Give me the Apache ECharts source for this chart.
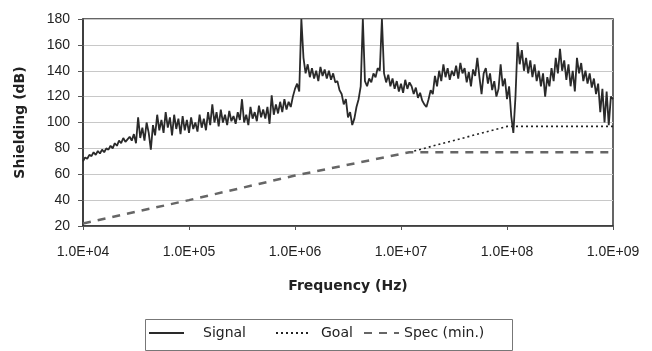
<!DOCTYPE html>
<html>
<head>
<meta charset="utf-8">
<script src="https://cdn.jsdelivr.net/npm/echarts@6/dist/echarts.min.js"></script>
<style>html,body{margin:0;padding:0;background:#fff;}#c{width:652px;height:351px;}</style>
</head>
<body>
<div id="c"></div>
<script>
// Signal readings, 50 per decade (log-spaced), one array per decade
const sigDec0 = [70,73,72,75,74,77,75,78,76,79, 77,80,79,82,80,84,82,86,84,88, 85,87,89,86,91,84,104,88,96,86, 100,92,79,98,90,106,94,102,92,108, 96,104,90,106,95,103,91,105,94,102];
const sigDec1 = [92,104,95,100,93,106,96,103,94,108, 98,114,100,108,97,110,100,106,98,109, 101,105,99,108,102,118,100,106,98,112, 103,108,101,113,104,110,103,112,99,121, 106,114,107,116,108,118,110,116,112,120];
const sigDec2 = [126,130,124,180,150,138,145,135,142,134, 140,132,143,136,141,134,140,133,138,131, 132,125,122,114,118,104,108,98,103,112, 118,128,180,132,128,134,131,138,135,142, 140,180,138,131,137,128,134,126,132,124];
const sigDec3 = [130,123,133,126,131,128,122,127,119,123, 117,114,112,118,125,122,136,128,140,132, 145,135,142,133,140,136,144,134,146,138, 142,131,139,128,141,136,150,135,122,138, 142,130,138,125,132,120,126,145,128,134];
const sigDec4 = [118,128,105,92,120,162,145,156,140,150, 138,148,135,145,132,140,128,138,120,135, 128,142,132,150,138,157,140,148,133,145, 128,140,124,150,138,146,132,140,130,138, 127,134,122,130,108,126,100,124,98,120];
const sigEnd = 118;
const startExp = 4;
const perDecade = 50;

const goalFreq = [1.2e7, 1e8, 1e9];
const goalVals = [77, 97, 97];
const specFreq = [1e4, 1e5, 1e6, 1.2e7, 1e9];
const specVals = [22, 40, 59, 77, 77];

const yTicks = [20, 40, 60, 80, 100, 120, 140, 160, 180];
const seriesNames = ['Signal', 'Goal', 'Spec (min.)'];

const sigAll = [].concat(sigDec0, sigDec1, sigDec2, sigDec3, sigDec4, [sigEnd]);
const sigData = sigAll.map((v, i) => [Math.pow(10, startExp + i / perDecade), v]);
const goalData = goalFreq.map((f, i) => [f, goalVals[i]]);
const specData = specFreq.map((f, i) => [f, specVals[i]]);

const font = 'Liberation Sans, Arial, sans-serif';
const boldFont = 'DejaVu Sans, sans-serif';
const legendText = {fontFamily: 'DejaVu Sans, sans-serif', fontSize: 14, color: '#222'};
function mkLegend(name, left, padLeft) {
  return {
    data: [name], left: left, top: 326, padding: 0,
    itemWidth: 35, itemHeight: 14,
    itemStyle: {opacity: 0},
    textStyle: Object.assign({}, legendText, {padding: [0, 0, 0, padLeft]})
  };
}
const chart = echarts.init(document.getElementById('c'), null, {renderer: 'canvas'});
chart.setOption({
  animation: false,
  backgroundColor: '#fff',
  grid: {left: 83, right: 39, top: 19, bottom: 125, show: true, borderColor: '#333', borderWidth: 1.5, backgroundColor: 'transparent'},
  xAxis: {
    type: 'log', logBase: 10, min: 1e4, max: 1e9, interval: 1,
    name: 'Frequency (Hz)', nameLocation: 'middle', nameGap: 53,
    nameTextStyle: {fontFamily: boldFont, fontSize: 14, fontWeight: 'bold', color: '#222'},
    axisLine: {show: true, lineStyle: {color: '#333', width: 1.5}},
    axisTick: {show: true, length: 4, lineStyle: {color: '#555'}},
    axisLabel: {fontFamily: font, fontSize: 14, color: '#222', margin: 19,
      formatter: v => '1.0E+' + String(Math.round(Math.log10(v))).padStart(2, '0')},
    splitLine: {show: false},
    minorTick: {show: false}
  },
  yAxis: {
    type: 'value', min: yTicks[0], max: yTicks[yTicks.length - 1], interval: 20,
    name: 'Shielding (dB)', nameLocation: 'middle', nameGap: 56,
    nameTextStyle: {fontFamily: boldFont, fontSize: 14, fontWeight: 'bold', color: '#222'},
    axisLine: {show: true, lineStyle: {color: '#333', width: 1.5}},
    axisTick: {show: true, length: 5, lineStyle: {color: '#555'}},
    axisLabel: {fontFamily: font, fontSize: 14, color: '#222', margin: 13},
    splitLine: {show: true, lineStyle: {color: '#c8c8c8', width: 1}}
  },
  legend: [
    mkLegend(seriesNames[0], 148, 14),
    mkLegend(seriesNames[1], 275, 5),
    mkLegend(seriesNames[2], 363, 0)
  ],
  graphic: [{type: 'rect', left: 143, top: 317, shape: {width: 367, height: 31},
    style: {fill: 'none', stroke: '#777', lineWidth: 1}}],
  series: [
    {name: 'Goal', type: 'line', data: goalData, symbol: 'none', z: 2, color: '#222',
     lineStyle: {color: '#222', width: 1.6, type: [2, 3]}},
    {name: 'Spec (min.)', type: 'line', data: specData, symbol: 'none', z: 3, color: '#666',
     lineStyle: {color: '#666', width: 2.5, type: [8, 7]}},
    {name: 'Signal', type: 'line', data: sigData, symbol: 'none', z: 4, color: '#2a2a2a',
     lineStyle: {color: '#2a2a2a', width: 1.8}}
  ]
});
</script>
</body>
</html>
